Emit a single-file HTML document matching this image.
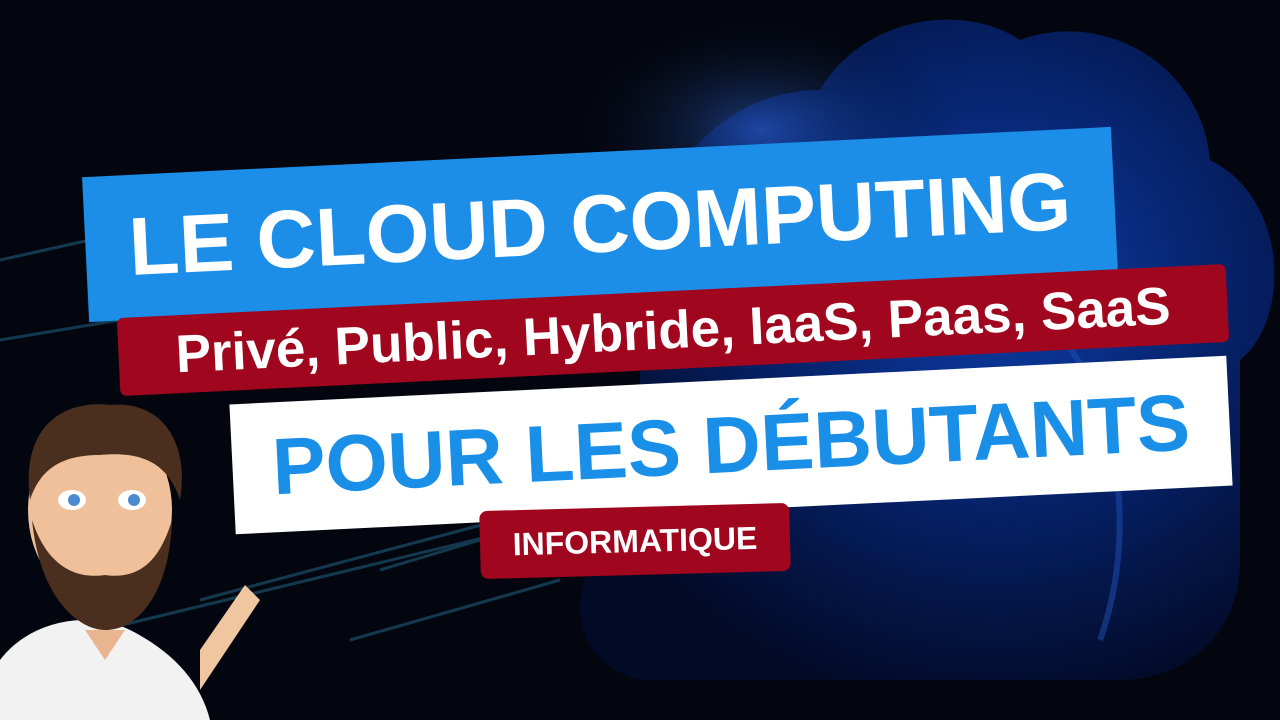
<!DOCTYPE html>
<html><head><meta charset="utf-8"><style>
html,body{margin:0;padding:0}
body{width:1280px;height:720px;overflow:hidden;position:relative;background:#03060f;font-family:"Liberation Sans",sans-serif}
.b{position:absolute;display:flex;align-items:center;justify-content:center;font-weight:bold;white-space:nowrap;transform-origin:center}
</style></head><body>
<svg width="1280" height="720" style="position:absolute;left:0;top:0">
<defs>
<radialGradient id="g1" cx="0.6" cy="0.4" r="0.65">
<stop offset="0" stop-color="#0d3ea8"/><stop offset="0.5" stop-color="#06226a"/><stop offset="1" stop-color="#020a26"/></radialGradient>
<radialGradient id="glow" cx="0.5" cy="0.5" r="0.5">
<stop offset="0" stop-color="#3a7cff" stop-opacity="0.45"/><stop offset="1" stop-color="#000" stop-opacity="0"/></radialGradient>
</defs>
<rect width="1280" height="720" fill="#03060f"/>
<path d="M640 680 C560 660 560 560 640 520 L640 300 C640 180 720 90 820 90 C860 20 960 0 1020 40 C1100 10 1200 60 1210 160 C1290 200 1290 320 1240 360 L1240 560 C1240 640 1180 680 1120 680 Z" fill="url(#g1)"/>
<ellipse cx="760" cy="130" rx="200" ry="120" fill="url(#glow)"/>
<path d="M1000 300 C1100 320 1150 500 1100 640" stroke="#1f4fb8" stroke-width="6" fill="none" opacity="0.5"/>
<g stroke="#1d5b78" stroke-width="3" opacity="0.6">
<line x1="60" y1="640" x2="640" y2="500"/><line x1="200" y1="600" x2="500" y2="520"/>
<line x1="350" y1="640" x2="560" y2="580"/><line x1="380" y1="570" x2="480" y2="540"/>
<line x1="0" y1="260" x2="90" y2="240"/><line x1="0" y1="340" x2="120" y2="320"/>
</g>
<!-- character -->
<path d="M0 720 L0 660 C30 620 90 610 130 630 C170 650 200 680 210 720 Z" fill="#f2f2f2"/>
<path d="M200 690 L260 600 L245 585 L200 650 Z" fill="#f0c6a0"/>
<path d="M85 630 L105 660 L125 630 Z" fill="#e9b58f"/>
<ellipse cx="100" cy="510" rx="72" ry="92" fill="#efc09a"/>
<path d="M30 500 C20 420 70 400 110 405 C160 400 190 440 180 500 C170 470 150 450 100 455 C60 455 40 470 30 500Z" fill="#4a2e1e"/>
<path d="M32 520 C40 600 80 630 105 630 C140 630 170 590 172 520 C160 560 140 580 105 575 C70 580 45 560 32 520Z" fill="#4a2e1e"/>
<ellipse cx="72" cy="500" rx="14" ry="10" fill="#fff"/><circle cx="74" cy="500" r="6" fill="#4d8bd0"/>
<ellipse cx="132" cy="500" rx="14" ry="10" fill="#fff"/><circle cx="134" cy="500" r="6" fill="#4d8bd0"/>
</svg>
<div class="b" style="left:85px;top:152px;width:1030px;height:145px;background:#1c8ee8;transform:rotate(-2.8deg);color:#fff;font-size:82px">LE CLOUD COMPUTING</div>
<div class="b" style="left:118px;top:291px;width:1110px;height:78px;background:#a0061e;transform:rotate(-2.8deg);color:#fff;font-size:53px;border-radius:6px">Privé, Public, Hybride, IaaS, Paas, SaaS</div>
<div class="b" style="left:232px;top:380px;width:998px;height:130px;background:#fff;transform:rotate(-2.8deg);color:#1a8fe8;font-size:80px">POUR LES DÉBUTANTS</div>
<div class="b" style="left:480px;top:507px;width:310px;height:68px;background:#a0061e;transform:rotate(-1.5deg);color:#fff;font-size:32px;border-radius:8px">INFORMATIQUE</div>
</body></html>
